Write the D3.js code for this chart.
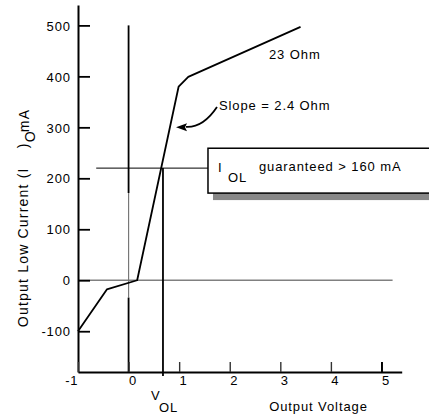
<!DOCTYPE html>
<html>
<head>
<meta charset="utf-8">
<script src="https://cdn.jsdelivr.net/npm/d3@7"></script>
<style>
  body { margin: 0; background: #fff; }
  text { font-family: "Liberation Sans", Arial, sans-serif; fill: #000; }
</style>
</head>
<body>
<div id="chart"></div>
<script>
// data
const xTicks = [-1, 0, 1, 2, 3, 4, 5];
const yTicks = [-100, 0, 100, 200, 300, 400, 500];
const curveV = [-1, -0.43, 0.17, 0.99, 1.18, 3.40];
const curveI = [-100, -18, 0, 380, 399, 497];
const iOL = 220;
const vOL = 0.68;
const xDomain = [-1, 5.4];
const yDomain = [-180, 540];

const width = 429, height = 420;
const svg = d3.select("#chart").append("svg")
  .attr("width", width)
  .attr("height", height);

const x = d3.scaleLinear().domain(xDomain).range([78, 401.7]);
const y = d3.scaleLinear().domain(yDomain).range([372, 5]);

const font = g => g.selectAll("text")
  .style("font-family", "'Liberation Sans', Arial, sans-serif")
  .style("font-size", "13px")
  .style("letter-spacing", "0.9px")
  .attr("fill", "#000");

// zero current line (grey)
svg.append("line")
  .attr("x1", x(-1)).attr("x2", x(5.22))
  .attr("y1", y(0)).attr("y2", y(0))
  .attr("stroke", "#808080").attr("stroke-width", 1.6);

// vertical line at 0 V
svg.append("line")
  .attr("x1", x(0)).attr("x2", x(0))
  .attr("y1", y(500)).attr("y2", y(171))
  .attr("stroke", "#000").attr("stroke-width", 1.8);
svg.append("line")
  .attr("x1", x(0)).attr("x2", x(0))
  .attr("y1", y(171)).attr("y2", y(-34))
  .attr("stroke", "#777").attr("stroke-width", 1.2);
svg.append("line")
  .attr("x1", x(0)).attr("x2", x(0))
  .attr("y1", y(-34)).attr("y2", y(-180))
  .attr("stroke", "#000").attr("stroke-width", 1.8);

// I_OL guide
svg.append("line")
  .attr("x1", x(-0.64)).attr("x2", x(1.57))
  .attr("y1", y(iOL)).attr("y2", y(iOL))
  .attr("stroke", "#000").attr("stroke-width", 1);
svg.append("line")
  .attr("x1", x(vOL)).attr("x2", x(vOL))
  .attr("y1", y(iOL)).attr("y2", y(-188))
  .attr("stroke", "#000").attr("stroke-width", 1.8);

// axes
const yAxis = svg.append("g")
  .attr("transform", `translate(${x(-1)},0)`)
  .call(d3.axisLeft(y).tickValues(yTicks).tickFormat(d => String(d))
    .tickSizeInner(-12).tickSizeOuter(0).tickPadding(7))
  .call(font);
yAxis.select(".domain").attr("stroke-width", 2);
yAxis.selectAll(".tick line").attr("stroke-width", 1.8);
yAxis.selectAll(".tick text").attr("dy", "0.36em");

const xAxis = svg.append("g")
  .attr("transform", `translate(0,${y(-180)})`)
  .call(d3.axisBottom(x).tickValues(xTicks).tickFormat(d => String(d))
    .tickSizeInner(-10).tickSizeOuter(0).tickPadding(4))
  .call(font);
xAxis.select(".domain").attr("stroke-width", 2);
xAxis.selectAll(".tick line").attr("stroke-width", d => d === 5 ? 2 : 1.4)
  .attr("stroke", d => d === 5 ? "#000" : "#333");
xAxis.selectAll(".tick text").attr("dx", 4)
  .filter(d => d === -1).attr("text-anchor", "end").attr("dx", 0);

// characteristic curve
const pts = curveV.map((v, i) => [v, curveI[i]]);
svg.append("path")
  .datum(pts)
  .attr("fill", "none")
  .attr("stroke", "#000")
  .attr("stroke-width", 1.8)
  .attr("stroke-linejoin", "round")
  .attr("d", d3.line().x(d => x(d[0])).y(d => y(d[1])));

// annotation box with shadow
const boxL = x(1.57), boxT = y(259), boxB = y(171), boxR = x(6.2);
svg.append("rect")
  .attr("x", boxL + 5).attr("y", boxT + 7)
  .attr("width", boxR - boxL).attr("height", boxB - boxT)
  .attr("fill", "#888");
svg.append("rect")
  .attr("x", boxL).attr("y", boxT)
  .attr("width", boxR - boxL).attr("height", boxB - boxT)
  .attr("fill", "#fff").attr("stroke", "#000").attr("stroke-width", 1.5);

const label = (t, vx, iy, size) => svg.append("text")
  .attr("x", x(vx)).attr("y", y(iy))
  .style("font-size", (size || 13) + "px")
  .style("letter-spacing", "0.9px")
  .text(t);

label("I", 1.768, 212);
label("OL", 1.966, 193);
label("guaranteed > 160 mA", 2.578, 214);
label("23 Ohm", 2.776, 434);
label("Slope = 2.4 Ohm", 1.788, 334);

// arrow to the steep segment
const arrowFrom = [1.748, 340], arrowCtl = [1.471, 299], arrowTo = [1.135, 301], arrowTip = [0.938, 300];
svg.append("path")
  .attr("d", `M${x(arrowFrom[0])},${y(arrowFrom[1])} Q${x(arrowCtl[0])},${y(arrowCtl[1])} ${x(arrowTo[0])},${y(arrowTo[1])}`)
  .attr("fill", "none").attr("stroke", "#000").attr("stroke-width", 1.8);
const tx = x(arrowTip[0]), ty = y(arrowTip[1]);
svg.append("path")
  .attr("d", `M${tx},${ty} L${tx + 11},${ty - 4} L${tx + 9},${ty} L${tx + 11},${ty + 4} Z`)
  .attr("fill", "#000");

// x axis titles
const xb = y(-180);
svg.append("text").attr("x", x(0.443)).attr("y", xb + 28)
  .style("font-size", "13px").text("V");
svg.append("text").attr("x", x(0.60)).attr("y", xb + 40)
  .style("font-size", "13px").style("letter-spacing", "0.9px").text("OL");
svg.append("text").attr("x", x(2.78)).attr("y", xb + 39)
  .style("font-size", "13px").style("letter-spacing", "0.9px").text("Output Voltage");

// y axis title (rotated)
const yt = svg.append("text")
  .attr("transform", `translate(28,${y(-92)}) rotate(-90)`)
  .style("font-size", "14px")
  .style("letter-spacing", "1.2px");
yt.append("tspan").attr("x", 0).attr("y", 0).text("Output Low Current (I");
yt.append("tspan").attr("x", 179).attr("y", 0).text(")");
yt.append("tspan").attr("x", 185).attr("y", 7).text("O");
yt.append("tspan").attr("x", 195).attr("y", 1).text("mA");
</script>
</body>
</html>
